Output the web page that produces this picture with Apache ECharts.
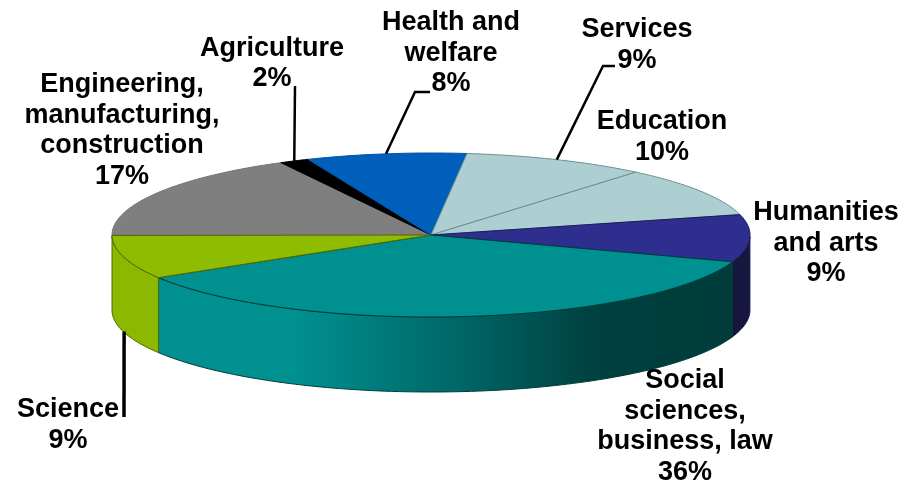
<!DOCTYPE html>
<html>
<head>
<meta charset="utf-8">
<script src="https://cdn.jsdelivr.net/npm/echarts@6/dist/echarts.min.js"></script>
<style>html,body{margin:0;padding:0;background:#fff}#c{width:920px;height:480px}</style>
</head>
<body>
<div id="c"></div>
<script>
// ---- data ----
const categories = [
  'Engineering,\nmanufacturing,\nconstruction',
  'Agriculture',
  'Health and\nwelfare',
  'Services',
  'Education',
  'Humanities\nand arts',
  'Social\nsciences,\nbusiness, law',
  'Science'
];
const shares = [17.2, 1.5, 8.1, 9.3, 9.9, 9.3, 36.0, 8.6];
const percentLabels = ['17%', '2%', '8%', '9%', '10%', '9%', '36%', '9%'];

// ---- styles and layout (not data) ----
const topColors = ['#7f7f7f', '#000000', '#005fbb', '#aecfd2', '#aecfd2', '#2e2e8e', '#009090', '#8fbc00'];
const edgeColors = ['#767676', '#000000', '#0055a8', '#6f8f92', '#6f8f92', '#1c1c5c', '#003c3c', '#4f6a00'];
const wallFills = {
  5: '#16163f',
  6: [[0, '#009090'], [0.24, '#009090'], [0.5, '#006a6a'], [0.76, '#004040'], [1, '#003c3c']],
  7: '#8cb900'
};
const labelAt = [[122, 130.5], [272, 63.5], [451, 53.5], [637, 45], [662, 137], [826, 243.5], [685, 426.5], [68, 425]];
const leaderPaths = { 1: [[295, 86]], 2: [[430, 92], [415, 92]], 3: [[615, 66], [603, 66]], 7: [[124, 417]] };
const leaderWidth = { 1: 2.5, 2: 2.5, 3: 2.5, 7: 3.5 };
const FLATTEN = 82 / 319, DEPTH = 75;

const rows = [];
shares.reduce((sum, v) => { rows.push([1, sum, v]); return sum + v; }, 0);

function renderSlice(params, api) {
  const i = params.dataIndex;
  const a0 = api.value(1), span = api.value(2);
  const c = api.coord([0, 0]);
  const pt = (r, a) => { const p = api.coord([r, a]); return [p[0], c[1] + (p[1] - c[1]) * FLATTEN]; };
  const arc = [];
  const steps = Math.max(8, Math.ceil(span * 3));
  for (let k = 0; k <= steps; k++) arc.push(pt(1, a0 + span * k / steps));
  const children = [];

  const low = arc.filter(p => p[1] >= c[1] - 0.01);
  if (low.length > 1) {
    const ordered = low.slice().sort((p, q) => p[0] - q[0]);
    const wall = ordered.concat(ordered.slice().reverse().map(p => [p[0], p[1] + DEPTH]));
    const f = wallFills[i];
    children.push({
      type: 'polygon', z2: 1,
      shape: { points: wall },
      style: {
        fill: Array.isArray(f)
          ? { type: 'linear', x: 0, y: 0, x2: 1, y2: 0, colorStops: f.map(s => ({ offset: s[0], color: s[1] })) }
          : f,
        stroke: edgeColors[i], lineWidth: 1
      }
    });
  }
  children.push({
    type: 'polygon', z2: 2,
    shape: { points: [[c[0], c[1]]].concat(arc) },
    style: { fill: topColors[i], stroke: edgeColors[i], lineWidth: 1, lineJoin: 'round' }
  });
  if (leaderPaths[i]) {
    let a = pt(1, a0 + span / 2);
    if (i === 7) a = [a[0], a[1] + DEPTH - 1];
    children.push({
      type: 'polyline', z2: 3,
      shape: { points: [a].concat(leaderPaths[i].slice().reverse()) },
      style: { fill: null, stroke: '#000', lineWidth: leaderWidth[i] }
    });
  }
  children.push({
    type: 'text', z2: 4,
    style: {
      x: labelAt[i][0], y: labelAt[i][1],
      text: categories[i] + '\n' + percentLabels[i],
      align: 'center', verticalAlign: 'middle',
      fontFamily: '"Liberation Sans", Arial, sans-serif',
      fontWeight: 'bold', fontSize: 27, lineHeight: 30.5, fill: '#000'
    }
  });
  return { type: 'group', children };
}

const chart = echarts.init(document.getElementById('c'), null, { renderer: 'canvas' });
chart.setOption({
  animation: false,
  backgroundColor: '#ffffff',
  polar: { center: [431, 235], radius: 319 },
  angleAxis: { type: 'value', min: 0, max: 100, startAngle: 180, clockwise: true, show: false },
  radiusAxis: { type: 'value', min: 0, max: 1, show: false },
  series: [{
    type: 'custom',
    coordinateSystem: 'polar',
    clip: false,
    encode: { radius: 0, angle: 1 },
    data: rows,
    renderItem: renderSlice
  }]
});
</script>
</body>
</html>
